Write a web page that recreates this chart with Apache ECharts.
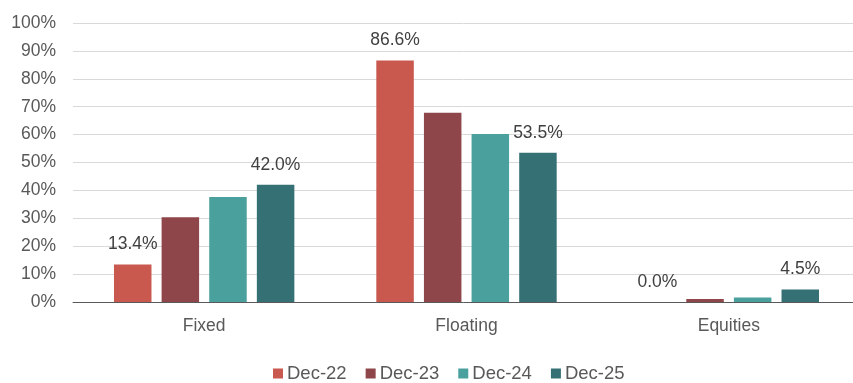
<!DOCTYPE html>
<html>
<head>
<meta charset="utf-8">
<script src="https://cdn.jsdelivr.net/npm/echarts@6/dist/echarts.min.js"></script>
<style>
  html, body { margin: 0; padding: 0; background: #fff; }
  #chart { width: 853px; height: 383px; }
</style>
</head>
<body>
<div id="chart"></div>
<script>
// data
var categories = ['Fixed', 'Floating', 'Equities'];
var seriesNames = ['Dec-22', 'Dec-23', 'Dec-24', 'Dec-25'];
var dec22 = [13.4, 86.6, 0.0];
var dec23 = [30.4, 67.8, 1.1];
var dec24 = [37.6, 60.2, 1.6];
var dec25 = [42.0, 53.5, 4.5];
var colors = ['#c9584f', '#8e464a', '#4aa09d', '#347074'];

var font = 'Liberation Sans, Arial, sans-serif';
var textColor = '#595959';
var fs = 17.5;

function makeSeries(name, data, color, showLabel) {
  return {
    name: name,
    type: 'bar',
    data: data,
    barWidth: 37.5,
    barGap: '27%',
    itemStyle: { color: color },
    label: {
      show: showLabel,
      position: 'top',
      distance: 11,
      formatter: function (p) { return p.value.toFixed(1) + '%'; },
      color: '#404040',
      fontSize: fs,
      fontFamily: font
    }
  };
}

var myChart = echarts.init(document.getElementById('chart'));
myChart.setOption({
  animation: false,
  textStyle: { fontFamily: font },
  grid: {
    left: 73,
    width: 787,
    top: 23,
    bottom: 81,
    containLabel: false,
    outerBoundsMode: 'none'
  },
  legend: {
    data: seriesNames,
    left: 273,
    top: 364,
    padding: 0,
    icon: 'rect',
    itemWidth: 10,
    itemHeight: 10,
    itemGap: 19,
    textStyle: { color: textColor, fontSize: 18.5, fontFamily: font, padding: [0, 0, 0, -1] }
  },
  xAxis: {
    type: 'category',
    data: categories,
    axisTick: { show: false },
    axisLine: { lineStyle: { color: '#595959', width: 1 } },
    axisLabel: { color: textColor, fontSize: fs, fontFamily: font, margin: 15 }
  },
  yAxis: {
    type: 'value',
    min: 0,
    max: 100,
    interval: 10,
    axisLine: { show: false },
    axisTick: { show: false },
    axisLabel: {
      formatter: '{value}%',
      color: textColor,
      fontSize: fs,
      fontFamily: font,
      margin: 17
    },
    splitLine: { lineStyle: { color: '#d9d9d9', width: 1 } }
  },
  series: [
    makeSeries(seriesNames[0], dec22, colors[0], true),
    makeSeries(seriesNames[1], dec23, colors[1], false),
    makeSeries(seriesNames[2], dec24, colors[2], false),
    makeSeries(seriesNames[3], dec25, colors[3], true)
  ]
});
</script>
</body>
</html>
